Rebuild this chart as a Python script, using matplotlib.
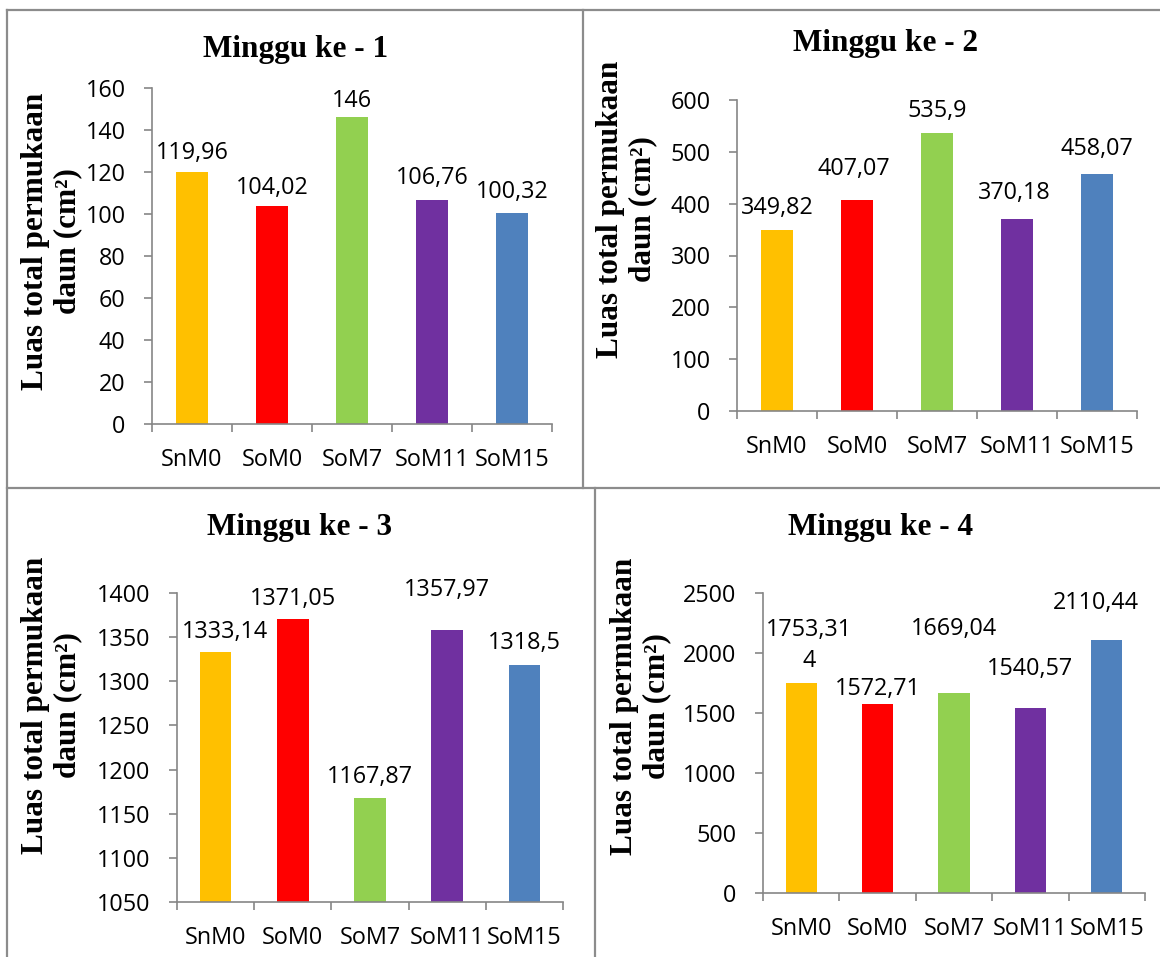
import matplotlib
matplotlib.use("Agg")
import matplotlib.pyplot as plt
from matplotlib.lines import Line2D

# ---- data ----
categories = ["SnM0", "SoM0", "SoM7", "SoM11", "SoM15"]
colors = ["#FFC000", "#FF0000", "#92D050", "#7030A0", "#4F81BD"]

week1 = [119.96, 104.02, 146, 106.76, 100.32]
week2 = [349.82, 407.07, 535.9, 370.18, 458.07]
week3 = [1333.14, 1371.05, 1167.87, 1357.97, 1318.5]
week4 = [1753.314, 1572.71, 1669.04, 1540.57, 2110.44]

titles = ["Minggu ke - 1", "Minggu ke - 2", "Minggu ke - 3", "Minggu ke - 4"]
ylabel = "Luas total permukaan\ndaun (cm\u00b2)"

yticks1 = [0, 20, 40, 60, 80, 100, 120, 140, 160]
yticks2 = [0, 100, 200, 300, 400, 500, 600]
yticks3 = [1050, 1100, 1150, 1200, 1250, 1300, 1350, 1400]
yticks4 = [0, 500, 1000, 1500, 2000, 2500]

# ---- layout (pixels, origin top-left) ----
W, H = 1160, 957
axes_px = [  # left, right, top, bottom
    (152, 552, 88, 424),
    (737, 1137, 100, 411),
    (177, 563, 593, 902),
    (763, 1145, 593, 893),
]
title_px = [(296, 50), (886, 44), (300, 528), (881, 528)]
ylabel_px = [(52, 241), (627, 209), (52, 705), (641, 706)]
# data label offsets from the bar top (dx, dy) in pixels
label_dy = [
    [19, 18, 16, 22, 21],
    [22, 31, 22, 26, 25],
    [20, 20, 21, 40, 22],
    [37, 15, 64, 39, 37],
]
label_dx = [
    [0, 0, 0, 0, 0],
    [0, -3, 0, -3, 0],
    [9, 0, 0, 0, 0],
    [8, 0, 0, 0, -11],
]

TICK_FONT = "Open Sans"
FS = 16.8
SERIF = "Liberation Serif"
AXIS_GRAY = "#868686"
BORDER_GRAY = "#8C8C8C"


def fmt_value(v):
    s = f"{v:.3f}".rstrip("0").rstrip(".").replace(".", ",")
    if len(s) > 7:
        s = s[:7] + "\n" + s[7:]
    return s


fig = plt.figure(figsize=(W / 100, H / 100), dpi=100)
fig.patch.set_facecolor("white")

datasets = [week1, week2, week3, week4]
tick_sets = [yticks1, yticks2, yticks3, yticks4]

for i, (vals, ticks) in enumerate(zip(datasets, tick_sets)):
    l, r, t, b = axes_px[i]
    ax = fig.add_axes([l / W, 1 - b / H, (r - l) / W, (b - t) / H])
    x = list(range(len(categories)))
    ax.bar(x, vals, width=0.41, color=colors, zorder=2)
    ax.set_xlim(-0.5, len(categories) - 0.5)
    ax.set_ylim(ticks[0], ticks[-1])
    ax.set_yticks(ticks)
    ax.set_yticklabels([str(v) for v in ticks])
    ax.set_xticks(x)
    ax.set_xticklabels(categories)
    ax.set_xticks([k - 0.5 for k in range(len(categories) + 1)], minor=True)
    ax.tick_params(axis="x", which="major", length=0, pad=17)
    ax.tick_params(axis="x", which="minor", length=6, width=1.2,
                   color=AXIS_GRAY, direction="out")
    ax.tick_params(axis="y", length=6, width=1.2, color=AXIS_GRAY,
                   direction="out", pad=13)
    for lab in ax.get_xticklabels() + ax.get_yticklabels():
        lab.set_fontfamily(TICK_FONT)
        lab.set_fontsize(FS)
        lab.set_color("black")
    for side in ("top", "right"):
        ax.spines[side].set_visible(False)
    for side in ("left", "bottom"):
        ax.spines[side].set_color(AXIS_GRAY)
        ax.spines[side].set_linewidth(1.2)
    ax.patch.set_alpha(0)

    for k, v in enumerate(vals):
        ax.annotate(fmt_value(v), xy=(k, v),
                    xytext=(label_dx[i][k], label_dy[i][k]),
                    textcoords="offset pixels", ha="center", va="center",
                    fontfamily=TICK_FONT, fontsize=FS, linespacing=1.4,
                    annotation_clip=False)

    tx, ty = title_px[i]
    fig.text(tx / W, 1 - ty / H, titles[i], ha="center", va="center",
             fontfamily=SERIF, fontweight="bold", fontsize=22.5)
    lx, ly = ylabel_px[i]
    fig.text(lx / W, 1 - ly / H, ylabel, ha="center", va="center",
             rotation=90, multialignment="center", linespacing=1.15,
             fontfamily=SERIF, fontweight="bold", fontsize=22.5)

# ---- panel frame lines ----
frame = [
    ((7, 1160), (10, 10)),
    ((7, 7), (10, 957)),
    ((7, 1160), (488, 488)),
    ((583, 583), (10, 488)),
    ((595, 595), (488, 957)),
]
for xs, ys in frame:
    fig.add_artist(Line2D([p / W for p in xs], [1 - p / H for p in ys],
                          color=BORDER_GRAY, linewidth=1.6))

fig.savefig("out.png", dpi=100, facecolor="white")
